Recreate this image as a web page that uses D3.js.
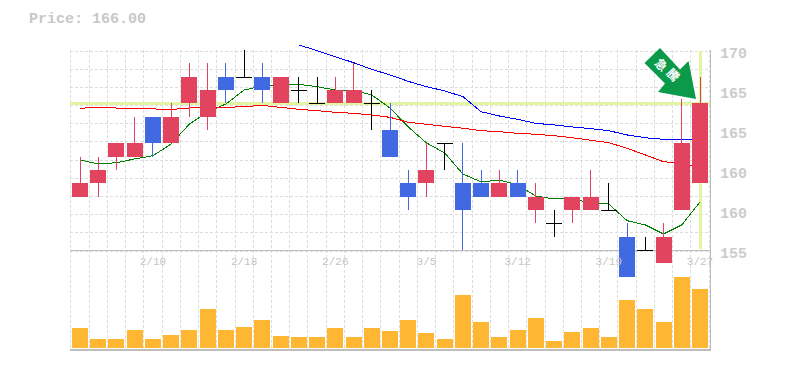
<!DOCTYPE html>
<html><head><meta charset="utf-8">
<script src="https://cdn.jsdelivr.net/npm/d3@7"></script>
<style>html,body{margin:0;padding:0;background:#fff}svg{display:block}</style>
</head><body><svg id="c" width="785" height="370"></svg>
<script>
const title = "Price: 166.00";
const yTickValues = [170,167,164,161,158,155];
const yTickLabels = ["170","165","165","160","160","155"];
const dateIdx = [4,9,14,19,24,29,34];
const dateLabels = ["2/10","2/18","2/26","3/5","3/12","3/19","3/27"];
const opens  = [159,160,162,162,165,163,166,165,168,168,168,166,167,166,166,166,166,164,160,160,163,160,160,159,160,158,157,158,158,158,156,155,154,158,160];
const closes = [160,161,163,163,163,165,168,167,167,168,167,168,167,166,167,167,166,162,159,161,163,158,159,160,159,159,157,159,159,158,153,155,156,163,166];
const highs  = [162,162,163,165,165,166,169,169,169,170,169,168,168,168,168,169,167,166,161,163,163,163,161,161,161,160,158,159,161,160,157,156,157,166.3,168];
const lows   = [159,159,161,162,162,163,165,164,166,168,166,166,166,166,166,166,164,162,158,159,161,155,159,159,159,157,156,157,158,158,153,155,154,158,160];
const volumes= [20,9,9,18,9,13,18,39,18,21,28,12,11,11,20,11,20,17,28,15,9,53,26,11,18,30,7,16,20,11,48,39,26,71,59];
const maGreen = [161.75,161.45,161.55,161.83,162.07,162.95,164.45,165.35,165.95,167,167.3,167.43,167.43,167.25,167,166.96,166.63,165.65,164.23,163.03,162.28,160.7,160.1,160.25,159.88,159.05,158.83,158.83,158.53,158.45,157.2,156.88,156.2,156.88,158.6];
const maRed = [165.63,165.7,165.65,165.65,165.58,165.54,165.65,165.69,165.69,165.76,165.84,165.7,165.55,165.45,165.33,165.25,165.13,164.95,164.58,164.43,164.28,164.13,163.95,163.87,163.75,163.68,163.57,163.42,163.23,163.05,162.63,162.13,161.62,161.5,161.23];
const maBlue = [170.38,169.95,169.5,169.05,168.55,168.13,167.65,167.25,166.93,166.5,165.37,165.05,164.8,164.5,164.38,164.23,164.1,163.95,163.63,163.42,163.3,163.3,163.29];
const blueStart = 12;
const lastPrice = 166;
const arrowText = ["急","騰"];

const RED="#e2435f",BLUE="#4169e1",ORANGE="#ffb733",GRID="#dcdcdc",AXIS="#bdbdbd",LIME="#e2f5a3",ARROW="#0a9a4a";
const svg=d3.select("#c");
const n=closes.length;
const x=d3.scaleLinear().domain([0,n-1]).range([80,700]);
const y=d3.scaleLinear().domain([155,170]).range([250,50]);
const v=d3.scaleLinear().domain([0,100]).range([348,248]);
const step=x(1)-x(0);
const crisp=s=>s.attr("shape-rendering","crispEdges");

// grid
const gv=d3.range(0,n+1).map(i=>Math.floor(x(i)-step/2)+.5);
crisp(svg.append("g").selectAll("line").data(gv).join("line")
 .attr("x1",d=>d).attr("x2",d=>d).attr("y1",50).attr("y2",350)
 .attr("stroke",GRID).attr("stroke-dasharray","3,2"));
const gh=d3.range(0,12).map(i=>Math.round(250-i*200/11+0.5)+.5);
crisp(svg.append("g").selectAll("line").data(gh).join("line")
 .attr("x1",70).attr("x2",710).attr("y1",d=>d).attr("y2",d=>d)
 .attr("stroke",GRID).attr("stroke-dasharray","3,2"));

// lime crosshair
crisp(svg.append("rect").attr("x",70).attr("width",640).attr("y",Math.round(y(lastPrice))-1).attr("height",3).attr("fill",LIME));
crisp(svg.append("rect").attr("x",x(34)-1).attr("width",3).attr("y",51).attr("height",198).attr("fill",LIME));

// axes frame
crisp(svg.append("line").attr("x1",70).attr("x2",710).attr("y1",250.5).attr("y2",250.5).attr("stroke",AXIS));
crisp(svg.append("rect").attr("x",70).attr("width",641).attr("y",349).attr("height",2).attr("fill",AXIS));
crisp(svg.append("line").attr("x1",710.5).attr("x2",710.5).attr("y1",50).attr("y2",351).attr("stroke",AXIS));

// volume
crisp(svg.append("g").selectAll("rect").data(volumes).join("rect")
 .attr("x",(d,i)=>Math.round(x(i)-8)).attr("width",16)
 .attr("y",d=>v(d)).attr("height",d=>v(0)-v(d)).attr("fill",ORANGE));

// moving averages (behind candles)
const line=d3.line().x(d=>x(d[0])).y(d=>y(d[1]));
const path=(a,s,c)=>svg.append("path").attr("d",line(a.map((d,i)=>[i+s,d]))).attr("fill","none").attr("stroke",c).attr("stroke-width",1).attr("shape-rendering","crispEdges");
path(maGreen,0,"#008000");
path(maRed,0,"#ff0000");
path(maBlue,blueStart,"#0000ff");

// candles
const col=i=>closes[i]>opens[i]?RED:closes[i]<opens[i]?BLUE:"#000";
const idx=d3.range(n);
crisp(svg.append("g").selectAll("line").data(idx).join("line")
 .attr("x1",i=>Math.floor(x(i))+.5).attr("x2",i=>Math.floor(x(i))+.5)
 .attr("y1",i=>y(highs[i])).attr("y2",i=>y(lows[i])).attr("stroke",col));
crisp(svg.append("g").selectAll("rect").data(idx.filter(i=>closes[i]!==opens[i])).join("rect")
 .attr("x",i=>Math.round(x(i)-8)).attr("width",16)
 .attr("y",i=>y(Math.max(opens[i],closes[i]))).attr("height",i=>Math.abs(y(opens[i])-y(closes[i]))).attr("fill",col));
crisp(svg.append("g").selectAll("line").data(idx.filter(i=>closes[i]===opens[i])).join("line")
 .attr("x1",i=>Math.round(x(i)-8)).attr("x2",i=>Math.round(x(i)+8))
 .attr("y1",i=>Math.round(y(opens[i]))+.5).attr("y2",i=>Math.round(y(opens[i]))+.5).attr("stroke","#000"));

// text
const MONO="'Liberation Mono',monospace";
svg.append("text").attr("x",29).attr("y",23).attr("font-family",MONO).attr("font-size",15).attr("font-weight",700).attr("fill","#c8c8c8").text(title);
svg.append("g").selectAll("text").data(yTickValues).join("text")
 .attr("x",720).attr("y",(d,i)=>58+40*i).attr("font-family",MONO).attr("font-size",15).attr("font-weight",700).attr("fill","#cccccc")
 .text((d,i)=>yTickLabels[i]);
svg.append("g").selectAll("text").data(dateIdx).join("text")
 .attr("x",d=>x(d)).attr("y",265).attr("text-anchor","middle").attr("font-family",MONO).attr("font-size",11).attr("fill","#c4c4c4")
 .text((d,i)=>dateLabels[i]);

// arrow
const tx=696,ty=99;
const rel=[[-36,-51],[-51.5,-36],[-31,-15.5],[-38,-7],[0,0],[-7.5,-38],[-16,-29.5]];
svg.append("polygon").attr("points",rel.map(p=>[tx+p[0],ty+p[1]].join(",")).join(" ")).attr("fill",ARROW);
arrowText.forEach((t,i)=>{
 const cx=661+i*12, cy=65+i*10;
 svg.append("text").attr("transform",`translate(${cx},${cy}) rotate(45)`).attr("text-anchor","middle").attr("dy","0.36em")
 .attr("font-family","'Noto Sans CJK JP'").attr("font-weight",700).attr("font-size",12).attr("fill","#fff").text(t);
});
</script></body></html>
